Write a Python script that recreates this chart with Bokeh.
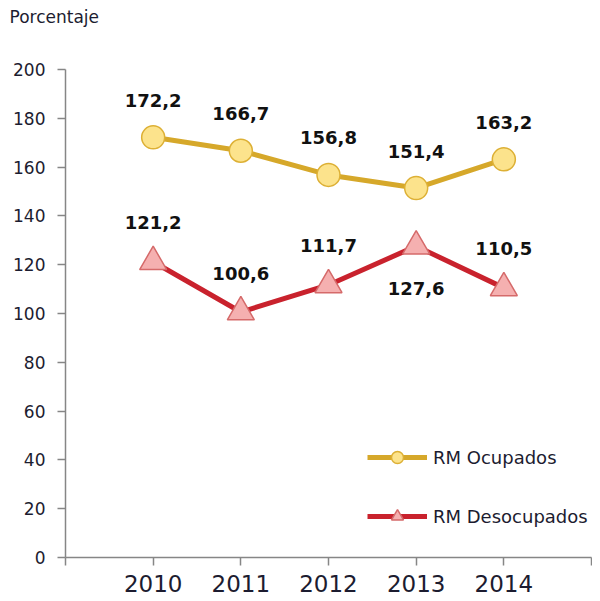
from bokeh.plotting import figure
from bokeh.models import Range1d, FixedTicker, Legend, LegendItem, ColumnDataSource
from bokeh.core.properties import value
from bokeh.embed import file_html
from bokeh.resources import INLINE

years = ["2010", "2011", "2012", "2013", "2014"]
ocupados = [172.2, 166.7, 156.8, 151.4, 163.2]
desocupados = [121.2, 100.6, 111.7, 127.6, 110.5]
ocupados_labels = ["172,2", "166,7", "156,8", "151,4", "163,2"]
desocupados_labels = ["121,2", "100,6", "111,7", "127,6", "110,5"]
desocupados_below = [False, False, False, True, False]
y_ticks = list(range(0, 201, 20))

FONT = "DejaVu Sans"
xs = list(range(1, len(years) + 1))

p = figure(width=592, height=598, output_backend="svg", toolbar_location=None,
           x_range=Range1d(0, len(years) + 1), y_range=Range1d(0, 200),
           min_border_left=65, min_border_right=1, min_border_top=69, min_border_bottom=41)
p.outline_line_color = None
p.xgrid.visible = False
p.ygrid.visible = False
p.background_fill_color = "white"

p.title.text = "Porcentaje\n \n "
p.title.text_font = FONT
p.title.text_font_size = "17px"
p.title.text_font_style = "normal"
p.title.text_color = "#1c1c30"
p.title.align = "left"
p.title.offset = -56
p.title.standoff = 6

AX = "#868686"
for ax in (p.xaxis[0], p.yaxis[0]):
    ax.axis_line_color = AX
    ax.axis_line_width = 1.5
    ax.major_tick_line_color = AX
    ax.major_tick_line_width = 1.5
    ax.minor_tick_line_color = None
    ax.major_tick_in = 0
    ax.major_tick_out = 8
    ax.major_label_text_font = FONT
    ax.major_label_text_color = "#1c1c30"

p.xaxis.ticker = FixedTicker(ticks=list(range(0, len(years) + 2)))
ov = {i: "" for i in range(0, len(years) + 2)}
for i, y in zip(xs, years):
    ov[i] = y
p.xaxis.major_label_overrides = ov
p.xaxis.major_label_text_font_size = "23px"
p.xaxis.major_label_standoff = 9

p.yaxis.ticker = FixedTicker(ticks=y_ticks)
p.yaxis.major_label_text_font_size = "17px"
p.yaxis.major_label_standoff = 12

GOLD = "#D6A82A"
GOLD_FILL = "#FCE38C"
GOLD_EDGE = "#DDB035"
RED = "#C9222D"
RED_FILL = "#F5B0B0"
RED_EDGE = "#D56A6A"

l1 = p.line(xs, ocupados, line_color=GOLD, line_width=5)
m1 = p.scatter(xs, ocupados, marker="circle", size=23, fill_color=GOLD_FILL,
               line_color=GOLD_EDGE, line_width=1.5)
l2 = p.line(xs, desocupados, line_color=RED, line_width=5)
m2 = p.scatter(xs, desocupados, marker="triangle", size=27, fill_color=RED_FILL,
               line_color=RED_EDGE, line_width=1.5)

src1 = ColumnDataSource(dict(x=xs, y=ocupados, t=ocupados_labels,
                             off=[-37] * len(xs)))
src2 = ColumnDataSource(dict(x=xs, y=desocupados, t=desocupados_labels,
                             off=[42 if b else -39 for b in desocupados_below]))
for s in (src1, src2):
    p.text(x="x", y="y", text="t", y_offset="off", source=s,
           text_font=value(FONT), text_font_style="bold", text_font_size="18px",
           text_align="center", text_baseline="middle", text_color="#111111")

legend = Legend(items=[LegendItem(label="RM Ocupados", renderers=[l1, m1]),
                       LegendItem(label="RM Desocupados", renderers=[l2, m2])],
                location=(302, 26), orientation="vertical",
                glyph_width=60, glyph_height=30, label_height=30,
                spacing=29, padding=0, margin=0, label_standoff=6,
                label_text_font=FONT, label_text_font_size="18px",
                label_text_color="#1c1c30",
                border_line_color=None, background_fill_alpha=0)
p.add_layout(legend)

open("out.html", "w").write(file_html(p, INLINE))
